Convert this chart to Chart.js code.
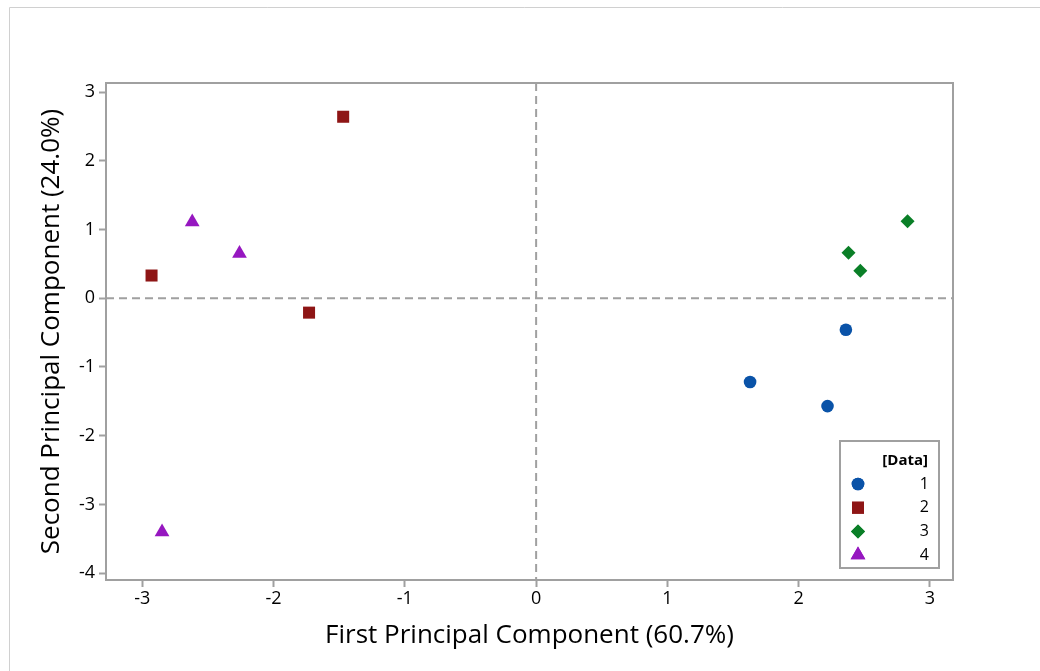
<!DOCTYPE html>
<html>
<head>
<meta charset="utf-8">
<script src="https://cdn.jsdelivr.net/npm/chart.js@4/dist/chart.umd.min.js"></script>
<style>
  html, body { margin: 0; padding: 0; background: #fff; }
  #wrap { width: 1040px; height: 671px; }
</style>
</head>
<body>
<div id="wrap"><canvas id="pca" width="1040" height="671"></canvas></div>
<script>
// --- data ---
const groups = ['1', '2', '3', '4'];
const g1x = [1.63, 2.36, 2.22];
const g1y = [-1.22, -0.46, -1.57];
const g2x = [-1.47, -2.93, -1.73];
const g2y = [2.64, 0.33, -0.21];
const g3x = [2.83, 2.38, 2.47];
const g3y = [1.12, 0.66, 0.40];
const g4x = [-2.62, -2.26, -2.85];
const g4y = [1.11, 0.65, -3.40];
const xTicks = [-3, -2, -1, 0, 1, 2, 3];
const yTicks = [-4, -3, -2, -1, 0, 1, 2, 3];

const FONT = "'Open Sans', 'Noto Sans', sans-serif";
const colors = ['#0a53a8', '#8e1515', '#0a7f27', '#9617c0'];
const shapes = ['circle', 'rect', 'rectRot', 'triangle'];
const sizes = [6.3, 8.5, 7, 8.5];

function pts(xs, ys) {
  return xs.map((x, i) => ({ x: x, y: ys[i] }));
}
const allX = [g1x, g2x, g3x, g4x];
const allY = [g1y, g2y, g3y, g4y];

const datasets = groups.map((g, i) => ({
  label: g,
  data: pts(allX[i], allY[i]),
  pointStyle: shapes[i],
  pointRadius: sizes[i],
  pointHoverRadius: sizes[i],
  backgroundColor: colors[i],
  borderColor: colors[i],
  borderWidth: 0
}));

// === frame, zero lines and legend ===
const decor = {
  id: 'decor',
  beforeDraw(chart) {
    const ctx = chart.ctx;
    ctx.save();
    ctx.fillStyle = '#fff';
    ctx.fillRect(0, 0, chart.width, chart.height);
    ctx.strokeStyle = '#d0d0d0';
    ctx.lineWidth = 1;
    ctx.beginPath();
    ctx.moveTo(9.5, chart.height);
    ctx.lineTo(9.5, 7.5);
    ctx.lineTo(chart.width, 7.5);
    ctx.stroke();
    ctx.restore();
  },
  beforeDatasetsDraw(chart) {
    const ctx = chart.ctx;
    const a = chart.chartArea;
    const x0 = chart.scales.x.getPixelForValue(0);
    const y0 = chart.scales.y.getPixelForValue(0);
    ctx.save();
    ctx.strokeStyle = '#a0a0a0';
    ctx.lineWidth = 2;
    ctx.setLineDash([8, 5]);
    ctx.beginPath();
    ctx.moveTo(a.left, y0);
    ctx.lineTo(a.right, y0);
    ctx.moveTo(x0, a.top);
    ctx.lineTo(x0, a.bottom);
    ctx.stroke();
    ctx.setLineDash([]);
    ctx.strokeRect(a.left, a.top, a.right - a.left, a.bottom - a.top);
    ctx.restore();
  },
  afterDatasetsDraw(chart) {
    const ctx = chart.ctx;
    const a = chart.chartArea;
    const bx = a.right - 113, by = a.bottom - 139, bw = 99, bh = 127;
    ctx.save();
    ctx.fillStyle = '#fff';
    ctx.fillRect(bx, by, bw, bh);
    ctx.strokeStyle = '#a0a0a0';
    ctx.lineWidth = 2;
    ctx.strokeRect(bx, by, bw, bh);
    ctx.fillStyle = '#000';
    ctx.textAlign = 'right';
    ctx.textBaseline = 'middle';
    ctx.font = 'bold 15px ' + FONT;
    ctx.fillText('[Data]', bx + 88, by + 20);
    ctx.font = '16px ' + FONT;
    chart.data.datasets.forEach((ds, i) => {
      const yy = by + 43 + i * 23.7;
      ctx.fillStyle = ds.backgroundColor;
      ctx.strokeStyle = ds.borderColor;
      Chart.helpers.drawPoint(ctx, {
        pointStyle: ds.pointStyle,
        radius: ds.pointRadius,
        borderWidth: 0,
        rotation: 0
      }, bx + 18, yy);
      ctx.fill();
      ctx.fillStyle = '#000';
      ctx.fillText(ds.label, bx + 89, yy);
    });
    ctx.restore();
  }
};

new Chart(document.getElementById('pca'), {
  type: 'scatter',
  data: { datasets: datasets },
  options: {
    responsive: false,
    animation: false,
    events: [],
    layout: { padding: { top: 83, right: 87, left: 0, bottom: 0 } },
    plugins: {
      legend: { display: false },
      tooltip: { enabled: false }
    },
    scales: {
      x: {
        type: 'linear',
        min: -3.277,
        max: 3.176,
        afterBuildTicks: (s) => { s.ticks = xTicks.map(v => ({ value: v })); },
        afterFit: (s) => { s.height = 91; },
        border: { display: false },
        grid: { drawOnChartArea: false, tickLength: 7, tickColor: '#a0a0a0', tickWidth: 2 },
        ticks: { color: '#000', font: { family: FONT, size: 18 }, padding: 1, maxRotation: 0 },
        title: {
          display: true,
          text: 'First Principal Component (60.7%)',
          color: '#000',
          font: { family: FONT, size: 26 },
          padding: { top: 0, bottom: 20 }
        }
      },
      y: {
        type: 'linear',
        min: -4.10,
        max: 3.131,
        afterBuildTicks: (s) => { s.ticks = yTicks.map(v => ({ value: v })); },
        afterFit: (s) => { s.width = 106; },
        border: { display: false },
        grid: { drawOnChartArea: false, tickLength: 7, tickColor: '#a0a0a0', tickWidth: 2 },
        ticks: { color: '#000', font: { family: FONT, size: 18 }, padding: 4 },
        title: {
          display: true,
          text: 'Second Principal Component (24.0%)',
          color: '#000',
          font: { family: FONT, size: 26 },
          padding: { top: 36, bottom: 0 }
        }
      }
    }
  },
  plugins: [decor]
});
</script>
</body>
</html>
